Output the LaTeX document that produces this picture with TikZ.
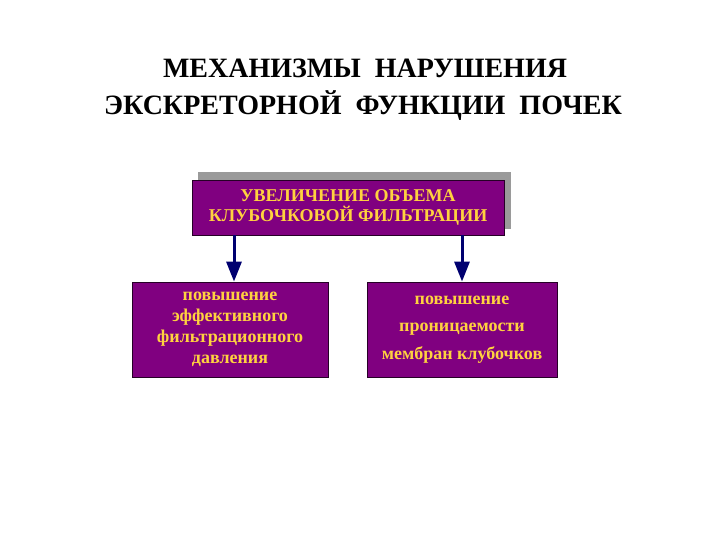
\documentclass[tikz,border=0pt]{standalone}
\usepackage{fontspec}
\setmainfont{Liberation Serif}
\usetikzlibrary{arrows.meta}
\definecolor{boxpurple}{HTML}{800080}
\definecolor{boxtext}{HTML}{FFD23F}
\definecolor{arrowblue}{HTML}{000070}
\definecolor{shadowgray}{HTML}{9A9A9A}
\begin{document}
\begin{tikzpicture}[x=1pt,y=-1pt,
  pbox/.style={draw=black!70!boxpurple,line width=0.8pt,fill=boxpurple,text=boxtext,font=\bfseries,align=center,inner sep=0pt},
  flow/.style={draw=arrowblue,line width=3pt,-{Triangle[width=15pt,length=20pt]}},
  titletext/.style={font=\fontsize{28}{32}\selectfont\bfseries}]
\useasboundingbox (0,0) rectangle (720,540);
\node[titletext] (t1) at (365,68) {МЕХАНИЗМЫ\ \ НАРУШЕНИЯ};
\node[titletext] (t2) at (363,106) {ЭКСКРЕТОРНОЙ\ \ ФУНКЦИИ\ \ ПОЧЕК};
\fill[shadowgray] (198,172) rectangle (511,229);
\node[pbox,minimum width=312pt,minimum height=55pt,font=\fontsize{18}{20}\selectfont\bfseries] (top) at (348,207.5) {УВЕЛИЧЕНИЕ ОБЪЕМА\\КЛУБОЧКОВОЙ ФИЛЬТРАЦИИ};
\node[pbox,minimum width=196pt,minimum height=95pt,font=\fontsize{18}{21}\selectfont\bfseries] (left) at (230,329.5) {повышение\\эффективного\\фильтрационного\\давления};
\node[pbox,minimum width=190pt,minimum height=95pt,font=\fontsize{18}{27.5}\selectfont\bfseries] (right) at (462,329.5) {повышение\\проницаемости\\мембран клубочков};
\draw[flow] (top.south -| 234,0) -- (left.north -| 234,0);
\draw[flow] (top.south -| 462,0) -- (right.north -| 462,0);
\end{tikzpicture}
\end{document}
